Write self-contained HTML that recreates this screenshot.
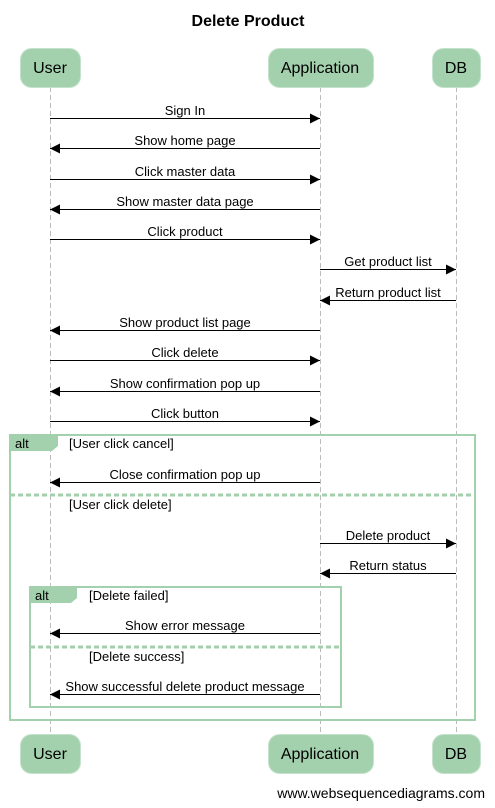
<!DOCTYPE html>
<html><head><meta charset="utf-8"><style>
html,body{margin:0;padding:0;background:#fff}
svg{display:block}
text{font-family:"Liberation Sans",Arial,sans-serif}
</style></head><body>
<svg width="495" height="808" viewBox="0 0 495 808" xmlns="http://www.w3.org/2000/svg">
<defs>
<marker id="a" viewBox="0 0 10 10" refX="10" refY="5" markerWidth="10" markerHeight="10" markerUnits="userSpaceOnUse" orient="auto"><path d="M0,0L10,5L0,10z" fill="#000"/></marker>
</defs>
<text x="248" y="26" font-size="16" font-weight="bold" text-anchor="middle">Delete Product</text>
<g stroke="#bbb" stroke-dasharray="5,3" stroke-width="1">
<line x1="50.5" y1="87" x2="50.5" y2="734"/>
<line x1="320.5" y1="87" x2="320.5" y2="734"/>
<line x1="456.5" y1="87" x2="456.5" y2="734"/>
</g>
<g fill="#a3d1ad" stroke="#c4e2cb">
<rect x="20.5" y="48.5" width="60" height="39" rx="11"/>
<rect x="268.5" y="48.5" width="105" height="39" rx="11"/>
<rect x="432.5" y="48.5" width="48" height="39" rx="11"/>
<rect x="20.5" y="734.5" width="60" height="39" rx="11"/>
<rect x="268.5" y="734.5" width="105" height="39" rx="11"/>
<rect x="432.5" y="734.5" width="48" height="39" rx="11"/>
</g>
<g font-size="16" text-anchor="middle">
<text x="50" y="73">User</text><text x="320" y="73">Application</text><text x="456" y="73">DB</text>
<text x="50" y="759">User</text><text x="320" y="759">Application</text><text x="456" y="759">DB</text>
</g>
<g fill="none" stroke="#a3d1ad" stroke-width="2">
<rect x="10" y="435" width="465" height="285"/>
<rect x="30" y="587" width="311" height="120"/>
</g>
<g stroke="#a3d1ad" stroke-width="3" stroke-dasharray="5,3">
<line x1="10" y1="495" x2="475" y2="495"/>
<line x1="30" y1="647" x2="341" y2="647"/>
</g>
<polygon points="10,435 58,435 58,446 52,451 10,451" fill="#a3d1ad"/>
<polygon points="30,587 77,587 77,598 71,603 30,603" fill="#a3d1ad"/>
<g font-size="13">
<text x="15" y="448">alt</text><text x="69" y="448">[User click cancel]</text>
<text x="69" y="509">[User click delete]</text>
<text x="35" y="600">alt</text><text x="89" y="600">[Delete failed]</text>
<text x="89" y="661">[Delete success]</text>
</g>
<g stroke="#000" stroke-width="1" marker-end="url(#a)">
<line x1="50" y1="118.5" x2="320" y2="118.5"/>
<line x1="320" y1="148.5" x2="50" y2="148.5"/>
<line x1="50" y1="179.5" x2="320" y2="179.5"/>
<line x1="320" y1="209.5" x2="50" y2="209.5"/>
<line x1="50" y1="239.5" x2="320" y2="239.5"/>
<line x1="320" y1="269.5" x2="456" y2="269.5"/>
<line x1="456" y1="300.5" x2="320" y2="300.5"/>
<line x1="320" y1="330.5" x2="50" y2="330.5"/>
<line x1="50" y1="360.5" x2="320" y2="360.5"/>
<line x1="320" y1="391.5" x2="50" y2="391.5"/>
<line x1="50" y1="421.5" x2="320" y2="421.5"/>
<line x1="320" y1="482.5" x2="50" y2="482.5"/>
<line x1="320" y1="543.5" x2="456" y2="543.5"/>
<line x1="456" y1="573.5" x2="320" y2="573.5"/>
<line x1="320" y1="633.5" x2="50" y2="633.5"/>
<line x1="320" y1="694.5" x2="50" y2="694.5"/>
</g>
<g font-size="13" text-anchor="middle">
<text x="185" y="115">Sign In</text>
<text x="185" y="145">Show home page</text>
<text x="185" y="176">Click master data</text>
<text x="185" y="206">Show master data page</text>
<text x="185" y="236">Click product</text>
<text x="388" y="266">Get product list</text>
<text x="388" y="297">Return product list</text>
<text x="185" y="327">Show product list page</text>
<text x="185" y="357">Click delete</text>
<text x="185" y="388">Show confirmation pop up</text>
<text x="185" y="418">Click button</text>
<text x="185" y="479">Close confirmation pop up</text>
<text x="388" y="540">Delete product</text>
<text x="388" y="570">Return status</text>
<text x="185" y="630">Show error message</text>
<text x="185" y="691">Show successful delete product message</text>
</g>
<text x="485" y="798" font-size="14" text-anchor="end">www.websequencediagrams.com</text>
</svg>
</body></html>
